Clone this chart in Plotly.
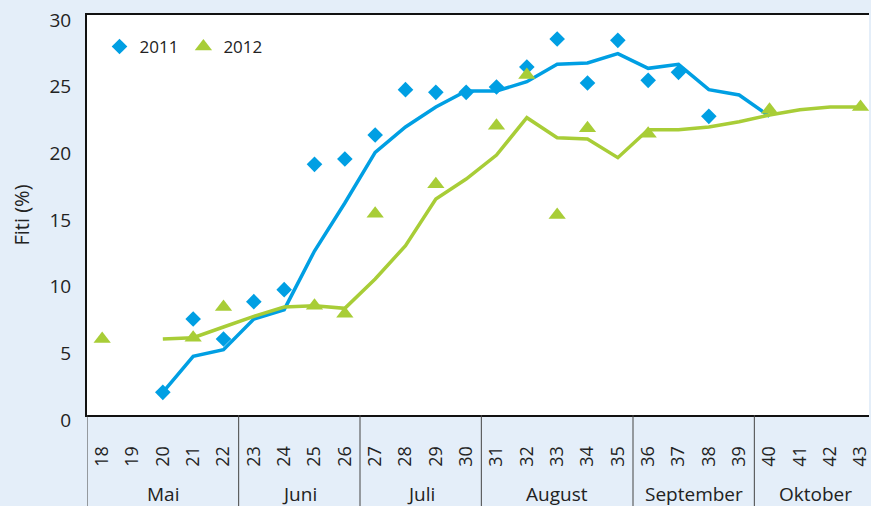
"""Fiti (%) per Kalenderwoche, 2011 und 2012"""

import plotly.graph_objects as go

BLUE = "#009fe3"
GREEN = "#a8cd37"
BG = "#e4eef9"
FONT = "Open Sans"

# observed values (markers)
weeks_2011 = [20, 21, 22, 23, 24, 25, 26, 27, 28, 29, 30, 31, 32, 33, 34, 35, 36, 37, 38]
obs_2011 = [1.7, 7.2, 5.7, 8.5, 9.4, 18.8, 19.2, 21.0, 24.4, 24.2, 24.2, 24.6, 26.1,
            28.2, 24.9, 28.1, 25.1, 25.7, 22.4]

weeks_2012 = [18, 21, 22, 25, 26, 27, 29, 31, 32, 33, 34, 36, 40, 43]
obs_2012 = [5.7, 5.8, 8.1, 8.2, 7.6, 15.1, 17.3, 21.7, 25.5, 15.0, 21.5, 21.1, 22.9, 23.1]

# smoothed lines
line_weeks_2011 = list(range(20, 41))
line_2011 = [1.7, 4.4, 4.9, 7.2, 7.9, 12.3, 15.9, 19.7, 21.6, 23.1, 24.3, 24.3, 25.0,
             26.3, 26.4, 27.1, 26.0, 26.3, 24.4, 24.0, 22.4]

line_weeks_2012 = list(range(20, 44))
line_2012 = [5.7, 5.8, 6.6, 7.4, 8.1, 8.2, 8.0, 10.2, 12.7, 16.2, 17.7, 19.5, 22.3,
             20.8, 20.7, 19.3, 21.4, 21.4, 21.6, 22.0, 22.5, 22.9, 23.1, 23.1]

week_ticks = list(range(18, 44))
months = ["Mai", "Juni", "Juli", "August", "September", "Oktober"]
month_first_week = [18, 23, 27, 31, 36, 40]
month_last_week = [22, 26, 30, 35, 39, 43]

fig = go.Figure()

fig.add_trace(go.Scatter(x=line_weeks_2011, y=line_2011, mode="lines",
                         line=dict(color=BLUE, width=3.5), showlegend=False))
fig.add_trace(go.Scatter(x=line_weeks_2012, y=line_2012, mode="lines",
                         line=dict(color=GREEN, width=3.5), showlegend=False))
fig.add_trace(go.Scatter(x=weeks_2011, y=obs_2011, mode="markers", name="2011",
                         marker=dict(symbol="diamond", size=12, color=BLUE)))
fig.add_trace(go.Scatter(x=weeks_2012, y=obs_2012, mode="markers", name="2012",
                         marker=dict(symbol="triangle-up", size=15, color=GREEN)))

# month separators and labels in the band under the axis
for first, last, name in zip(month_first_week, month_last_week, months):
    fig.add_shape(type="line", xref="x", yref="paper", x0=first - 0.5, x1=first - 0.5,
                  y0=0, y1=-0.23, line=dict(color="#444444", width=1))
    fig.add_annotation(x=(first + last) / 2, y=-0.1975, xref="x", yref="paper",
                       text=name, showarrow=False, yanchor="middle",
                       font=dict(family=FONT, size=19, color="#222222"))

fig.update_layout(
    width=871,
    height=506,
    margin=dict(l=87, r=0, t=15, b=91),
    paper_bgcolor=BG,
    plot_bgcolor="white",
    font=dict(family=FONT, size=17, color="#222222"),
    legend=dict(orientation="h", x=0.016, y=0.965, xanchor="left", yanchor="top",
                bgcolor="rgba(0,0,0,0)", font=dict(size=17)),
    xaxis=dict(
        range=[17.5, 43.28],
        tickvals=week_ticks,
        ticktext=[str(w) for w in week_ticks],
        tickangle=-90,
        ticks="",
        ticklabelstandoff=22,
        ticklabeloverflow="allow",
        showgrid=False,
        zeroline=False,
        showline=True,
        linecolor="#111111",
        linewidth=2,
        mirror=True,
        tickfont=dict(size=18),
    ),
    yaxis=dict(
        range=[0, 30],
        tickvals=[0, 5, 10, 15, 20, 25, 30],
        ticks="",
        ticklabelstandoff=10,
        ticklabelshift=5,
        ticklabeloverflow="allow",
        showgrid=False,
        zeroline=False,
        showline=True,
        linecolor="#111111",
        linewidth=2,
        title=dict(text="Fiti (%)", standoff=14, font=dict(size=20)),
        tickfont=dict(size=19),
    ),
)

fig.write_html("out.html", config={"displayModeBar": False},
               post_script="document.body.style.margin='0';")
